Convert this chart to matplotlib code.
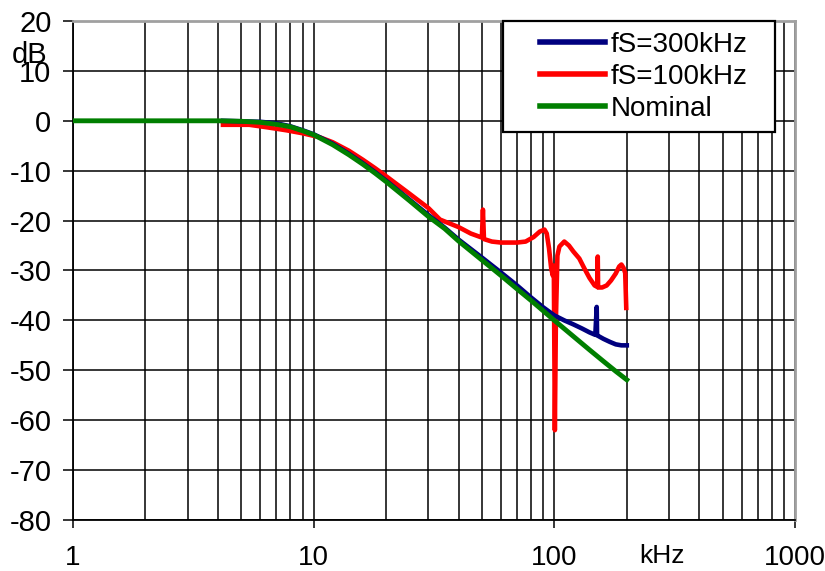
import matplotlib
matplotlib.use("Agg")
import matplotlib.pyplot as plt
from matplotlib.patches import Rectangle
from matplotlib.ticker import LogLocator, NullFormatter

plt.rcParams['font.family'] = ['Liberation Sans', 'DejaVu Sans']

# ---------- Measured responses (frequency in kHz, gain in dB) ----------
nominal_f = [1, 2, 3, 4, 5, 6, 7, 8, 9, 10, 12, 14, 16, 18, 20, 25, 30, 35,
             40, 50, 60, 70, 80, 90, 100, 120, 140, 160, 180, 200]
nominal_db = [0, 0, 0, 0, -0.1, -0.3, -0.7, -1.2, -2.0, -2.8, -4.8, -6.8,
              -8.7, -10.5, -12.2, -16.0, -19.2, -21.6, -24.1, -27.9, -31.0,
              -33.7, -36.0, -38.1, -40.0, -43.2, -45.9, -48.2, -50.2, -51.9]

fs300_f = [4.2, 6, 7, 8, 9, 10, 12, 14, 16, 18, 20, 25, 30, 35, 40, 50, 60,
           70, 80, 90, 100, 110, 120, 130, 140, 148, 150, 150.5, 152, 160,
           170, 180, 190, 200]
fs300_db = [0, -0.2, -0.5, -1.1, -1.9, -2.7, -4.6, -6.6, -8.5, -10.3, -12.0,
            -15.8, -18.9, -21.4, -23.8, -27.4, -30.4, -33.0, -35.4, -37.4,
            -39.0, -40.0, -40.8, -41.6, -42.4, -42.9, -37.3, -43.0, -43.1,
            -43.7, -44.3, -44.8, -45.0, -45.0]

fs100_f = [4.2, 5.4, 6.4, 7.7, 9, 10.6, 12, 14, 16, 18, 20, 25, 30, 33.5, 40,
           45, 50, 50.5, 51, 55, 60, 70, 76, 82, 87, 91, 93, 95, 97, 98.5,
           99.5, 100.5, 101.5, 103, 105, 110, 115, 120, 127, 133, 140, 147,
           151, 151.5, 152, 158, 165, 172, 180, 186, 190, 194, 197, 199]
fs100_db = [-0.8, -0.8, -1.3, -1.9, -2.5, -3.3, -4.3, -6.0, -7.8, -9.5, -11.1,
            -14.6, -17.5, -19.8, -21.3, -22.6, -23.4, -17.8, -23.7, -24.2,
            -24.4, -24.4, -24.2, -23.3, -22.2, -21.8, -22.6, -25.5, -29.5,
            -31.0, -29.0, -62.0, -40.0, -27.0, -25.2, -24.2, -25.0, -26.2,
            -27.6, -29.5, -31.5, -33.0, -33.3, -27.2, -33.4, -33.4, -33.0,
            -32.0, -30.6, -29.2, -28.8, -29.5, -30.5, -37.5]

y_ticks = [20, 10, 0, -10, -20, -30, -40, -50, -60, -70, -80]
y_labels = ["20", "10", "0", "-10", "-20", "-30", "-40", "-50", "-60",
            "-70", "-80"]
x_ticks = [1, 10, 100, 1000]
x_labels = ["1", "10", "100", "1000"]

W, H = 825, 571

# ---------- Figure ----------
fig = plt.figure(figsize=(W / 100, H / 100), dpi=100)
ax = fig.add_axes([73 / W, 1 - 520 / H, 722 / W, 499 / H])

ax.plot(fs300_f, fs300_db, color="#00007f", lw=3.3, label="fS=300kHz",
        zorder=3)
ax.plot(fs100_f, fs100_db, color="#ff0000", lw=3.3, label="fS=100kHz",
        zorder=2)
ax.plot(nominal_f, nominal_db, color="#007f00", lw=3.5, label="Nominal",
        zorder=4)

ax.set_xscale("log")
ax.set_xlim(1, 1000)
ax.set_ylim(-80, 20)

ax.set_xticks(x_ticks)
ax.set_xticklabels(x_labels)
ax.xaxis.set_minor_locator(LogLocator(base=10, subs=range(2, 10)))
ax.xaxis.set_minor_formatter(NullFormatter())
ax.set_yticks(y_ticks)
ax.set_yticklabels(y_labels)

ax.set_axisbelow(True)
ax.grid(True, which="both", axis="x", color="black", lw=1.1)
ax.grid(True, which="major", axis="y", color="black", lw=1.1)

ax.tick_params(axis="y", direction="out", length=7.5, width=1.1,
               labelsize=21, pad=8, colors="black")
ax.tick_params(axis="x", which="major", direction="out", length=6,
               width=1.1, labelsize=20, pad=12)
ax.tick_params(axis="x", which="minor", length=0)

for side in ("top", "right"):
    ax.spines[side].set_color("#a0a0a0")
    ax.spines[side].set_linewidth(2)
for side in ("left", "bottom"):
    ax.spines[side].set_color("black")
    ax.spines[side].set_linewidth(1.3)

# legend: fixed white box with a frameless legend inside
box = Rectangle((503 / W, 1 - 132 / H), 272 / W, 111 / H,
                transform=fig.transFigure, facecolor="white",
                edgecolor="black", lw=1.6, zorder=5, clip_on=False)
ax.add_patch(box)
leg = ax.legend(loc="upper left", bbox_to_anchor=(540 / W, 1 - 32 / H),
                bbox_transform=fig.transFigure, borderaxespad=0,
                borderpad=0, fontsize=20, frameon=False,
                handlelength=2.35, handletextpad=0.2, labelspacing=0.21)
leg.set_zorder(6)
for line in leg.get_lines():
    line.set_linewidth(4)

fig.text(12 / W, 1 - 55 / H, "dB", fontsize=21, ha="left", va="center")
fig.text(662 / W, 1 - 556 / H, "kHz", fontsize=19, ha="center",
         va="center")

fig.savefig("out.png", dpi=100)
